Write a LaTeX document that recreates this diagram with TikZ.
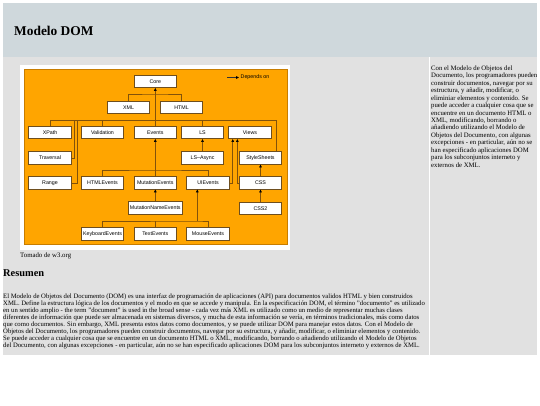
\documentclass[tikz,border=0pt]{standalone}
\usepackage{fontspec}
\setmainfont{Liberation Serif}
\setsansfont{Liberation Sans}
\usetikzlibrary{arrows.meta,calc}
\definecolor{banner}{RGB}{207,216,220}
\definecolor{pagegray}{RGB}{225,225,225}
\definecolor{orangebg}{RGB}{255,165,0}
\definecolor{orangeedge}{RGB}{200,125,0}
\definecolor{linebrown}{RGB}{130,82,10}
\definecolor{boxedge}{RGB}{110,78,30}
\begin{document}
\begin{tikzpicture}[x=1pt,y=-1pt,
  mod/.style={draw=boxedge,line width=0.6pt,fill=white,minimum width=42.5pt,minimum height=12.5pt,inner sep=0pt,font=\sffamily\fontsize{5.3}{6}\selectfont},
  wire/.style={draw=linebrown,line width=0.6pt},
  dep/.style={wire,-{Triangle[length=2.8pt,width=2.6pt,color=black]}},
  txt/.style={inner sep=0pt,align=left}
]
\useasboundingbox (0,0) rectangle (540,405);
% page
\fill[white] (0,0) rectangle (540,405);
\fill[banner] (3,3) rectangle (537,57);
\fill[pagegray] (3,57) rectangle (537,355);
\draw[white,line width=1pt] (429.5,57) -- (429.5,355);
\node[anchor=west,inner sep=0pt,font=\bfseries\fontsize{13.4}{16}\selectfont] (title) at (14,31) {Modelo DOM};
% image frame
\fill[white] (20,65) rectangle (290,250);
\filldraw[fill=orangebg,draw=orangeedge,line width=0.6pt] (24.5,69) rectangle (287,244);
% modules
\node[mod] (core) at (155.3,81.5) {Core};
\node[mod] (xml) at (128.5,107.5) {XML};
\node[mod] (html) at (181.5,107.5) {HTML};
\node[mod] (xpath) at (50,132.5) {XPath};
\node[mod] (validation) at (102.5,132.5) {Validation};
\node[mod] (events) at (155.3,132.5) {Events};
\node[mod] (ls) at (202.5,132.5) {LS};
\node[mod] (views) at (250,132.5) {Views};
\node[mod] (traversal) at (50,158) {Traversal};
\node[mod] (lsasync) at (202.5,158) {LS–Async};
\node[mod] (stylesheets) at (260.5,158) {StyleSheets};
\node[mod] (range) at (50,183) {Range};
\node[mod] (htmlevents) at (102.5,183) {HTMLEvents};
\node[mod] (mutationevents) at (155.3,183) {MutationEvents};
\node[mod] (uievents) at (208,183) {UIEvents};
\node[mod] (css) at (260.5,183) {CSS};
\node[mod,minimum width=53.5pt] (mutationname) at (155.3,208) {MutationNameEvents};
\node[mod] (css2) at (260.5,208.5) {CSS2};
\node[mod] (keyboard) at (102.5,234) {KeyboardEvents};
\node[mod] (textevents) at (155.3,234) {TextEvents};
\node[mod] (mouse) at (208,234) {MouseEvents};
% legend
\coordinate (legA) at (227,77.5);
\node[anchor=west,inner sep=0pt,font=\sffamily\fontsize{5.3}{6}\selectfont] (legtext) at (240.5,77.5) {Depends on};
\draw[draw=black!80,line width=0.6pt,-{Triangle[length=2.8pt,width=2.6pt,color=black]}] (legA) -- ($(legtext.west)+(-1.5,0)$);
% connectors to Core
\coordinate (jcore) at (155.3,94);
\draw[wire] (xml.north) |- (jcore) -| (html.north);
\draw[dep] (events.north) -- (core.south);
\coordinate (ssBar) at (276,120);
\coordinate (travBar) at (74,120);
\coordinate (rangeBar) at (77,120);
\draw[wire] (xpath.north) |- (ssBar) -- (ssBar |- stylesheets.north);
\draw[wire] (validation.north) -- (validation.north |- ssBar);
\draw[wire] (ls.north) -- (ls.north |- ssBar);
\draw[wire] (traversal.east) -| (travBar);
\draw[wire] (range.east) -| (rangeBar);
% Views
\draw[dep] (uievents.east) -| ($(views.south west)+(4.3,0)$);
\draw[dep] (css.west) -| ($(views.south west)+(8.9,0)$);
% LS
\draw[dep] (lsasync.north) -- (ls.south);
% StyleSheets / CSS
\draw[dep] (css.north) -- (stylesheets.south);
\draw[dep] (css2.north) -- (css.south);
% Events
\coordinate (evBar) at (155.3,170);
\draw[dep] (mutationevents.north) -- (events.south);
\draw[wire] (htmlevents.north) |- (evBar) -| (uievents.north);
\draw[dep] (mutationname.north) -- (mutationevents.south);
% UIEvents
\coordinate (uiBar) at (197.3,221);
\draw[dep] (uiBar) -- (uiBar |- uievents.south);
\draw[wire] (keyboard.north) |- (uiBar) -| (mouse.north);
\draw[wire] (textevents.north) -- (textevents.north |- uiBar);
% texts
\node[anchor=west,inner sep=0pt,font=\fontsize{6.8}{8}\selectfont] (credit) at (20,256) {Tomado de w3.org};
\node[anchor=west,inner sep=0pt,font=\bfseries\fontsize{10.4}{12}\selectfont] (resumen) at (3,273) {Resumen};
\node[txt,anchor=north west,font=\fontsize{6.68}{6.95}\selectfont] (para) at (3,293.5) {El Modelo de Objetos del Documento (DOM) es una interfaz de programación de aplicaciones (API) para documentos validos HTML y bien construidos\\
XML. Define la estructura lógica de los documentos y el modo en que se accede y manipula. En la especificación DOM, el término "documento" es utilizado\\
en un sentido amplio - the term "document" is used in the broad sense - cada vez más XML es utilizado como un medio de representar muchas clases\\
diferentes de información que puede ser almacenada en sistemas diversos, y mucha de esta información se vería, en términos tradicionales, más como datos\\
que como documentos. Sin embargo, XML presenta estos datos como documentos, y se puede utilizar DOM para manejar estos datos. Con el Modelo de\\
Objetos del Documento, los programadores pueden construir documentos, navegar por su estructura, y añadir, modificar, o eliminiar elementos y contenido.\\
Se puede acceder a cualquier cosa que se encuentre en un documento HTML o XML, modificando, borrando o añadiendo utilizando el Modelo de Objetos\\
del Documento, con algunas excepciones - en particular, aún no se han especificado aplicaciones DOM para los subconjuntos interneto y externos de XML.};
\node[txt,anchor=north west,font=\fontsize{6.75}{7.45}\selectfont] (side) at (431,65.5) {Con el Modelo de Objetos del\\
Documento, los programadores pueden\\
construir documentos, navegar por su\\
estructura, y añadir, modificar, o\\
eliminiar elementos y contenido. Se\\
puede acceder a cualquier cosa que se\\
encuentre en un documento HTML o\\
XML, modificando, borrando o\\
añadiendo utilizando el Modelo de\\
Objetos del Documento, con algunas\\
excepciones - en particular, aún no se\\
han especificado aplicaciones DOM\\
para los subconjuntos interneto y\\
externos de XML.};
\end{tikzpicture}
\end{document}
